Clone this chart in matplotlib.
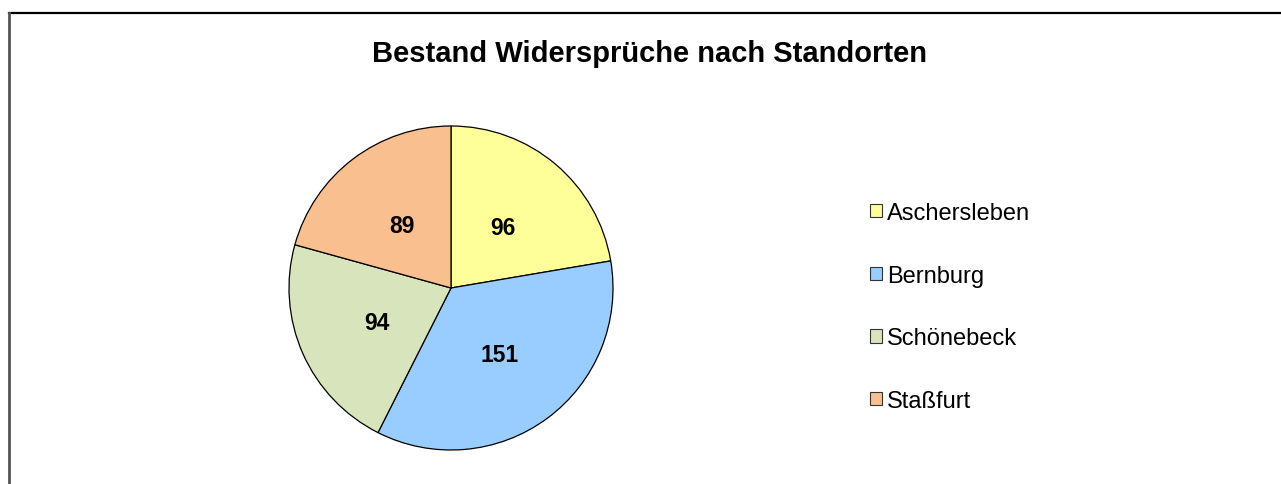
import numpy as np
import matplotlib.pyplot as plt
from matplotlib.patches import Patch
from matplotlib.lines import Line2D

standorte = ['Aschersleben', 'Bernburg', 'Schönebeck', 'Staßfurt']
bestand = [96, 151, 94, 89]
farben = ['#FFFF99', '#99CCFF', '#D8E4BC', '#FABF8F']

W, H = 1281, 485
plt.rcParams['font.family'] = ['Liberation Sans', 'DejaVu Sans']

fig = plt.figure(figsize=(W / 100, H / 100), dpi=100)

# chart frame, runs off the right and bottom edges
fig.add_artist(Line2D([8.5 / W, 1.0], [1 - 14 / H, 1 - 14 / H], color='black', lw=1.6))
fig.add_artist(Line2D([8.5 / W, 8.5 / W], [0.0, 1 - 14 / H], color='#555555', lw=2.0))

fig.text(650 / W, 1 - 54 / H, 'Bestand Widersprüche nach Standorten',
         ha='center', va='center', fontsize=21, fontweight='bold')

# pie: centre (451, 289) px, radius 162 px
cx, cy, r = 451, 289, 162
ax = fig.add_axes([(cx - r) / W, (H - cy - r) / H, 2 * r / W, 2 * r / H])
wedges, _ = ax.pie(bestand, colors=farben, startangle=90, counterclock=False,
                   wedgeprops=dict(edgecolor='black', linewidth=0.9))
ax.set_xlim(-1, 1)
ax.set_ylim(-1, 1)
ax.set_aspect('equal')

for w, v in zip(wedges, bestand):
    ang = np.deg2rad((w.theta1 + w.theta2) / 2)
    ax.text(0.5 * np.cos(ang), 0.5 * np.sin(ang) - 0.01, str(v),
            ha='center', va='center', fontsize=16.5, fontweight='bold')

handles = [Patch(facecolor=c, edgecolor='#333333', linewidth=0.8) for c in farben]
fig.legend(handles, standorte, loc='upper left', bbox_to_anchor=(870 / W, 1 - 203 / H),
           frameon=False, fontsize=17, handlelength=0.5, handleheight=0.5,
           handletextpad=0.22, labelspacing=1.72, borderpad=0, borderaxespad=0)

fig.savefig('out.png', dpi=100)
